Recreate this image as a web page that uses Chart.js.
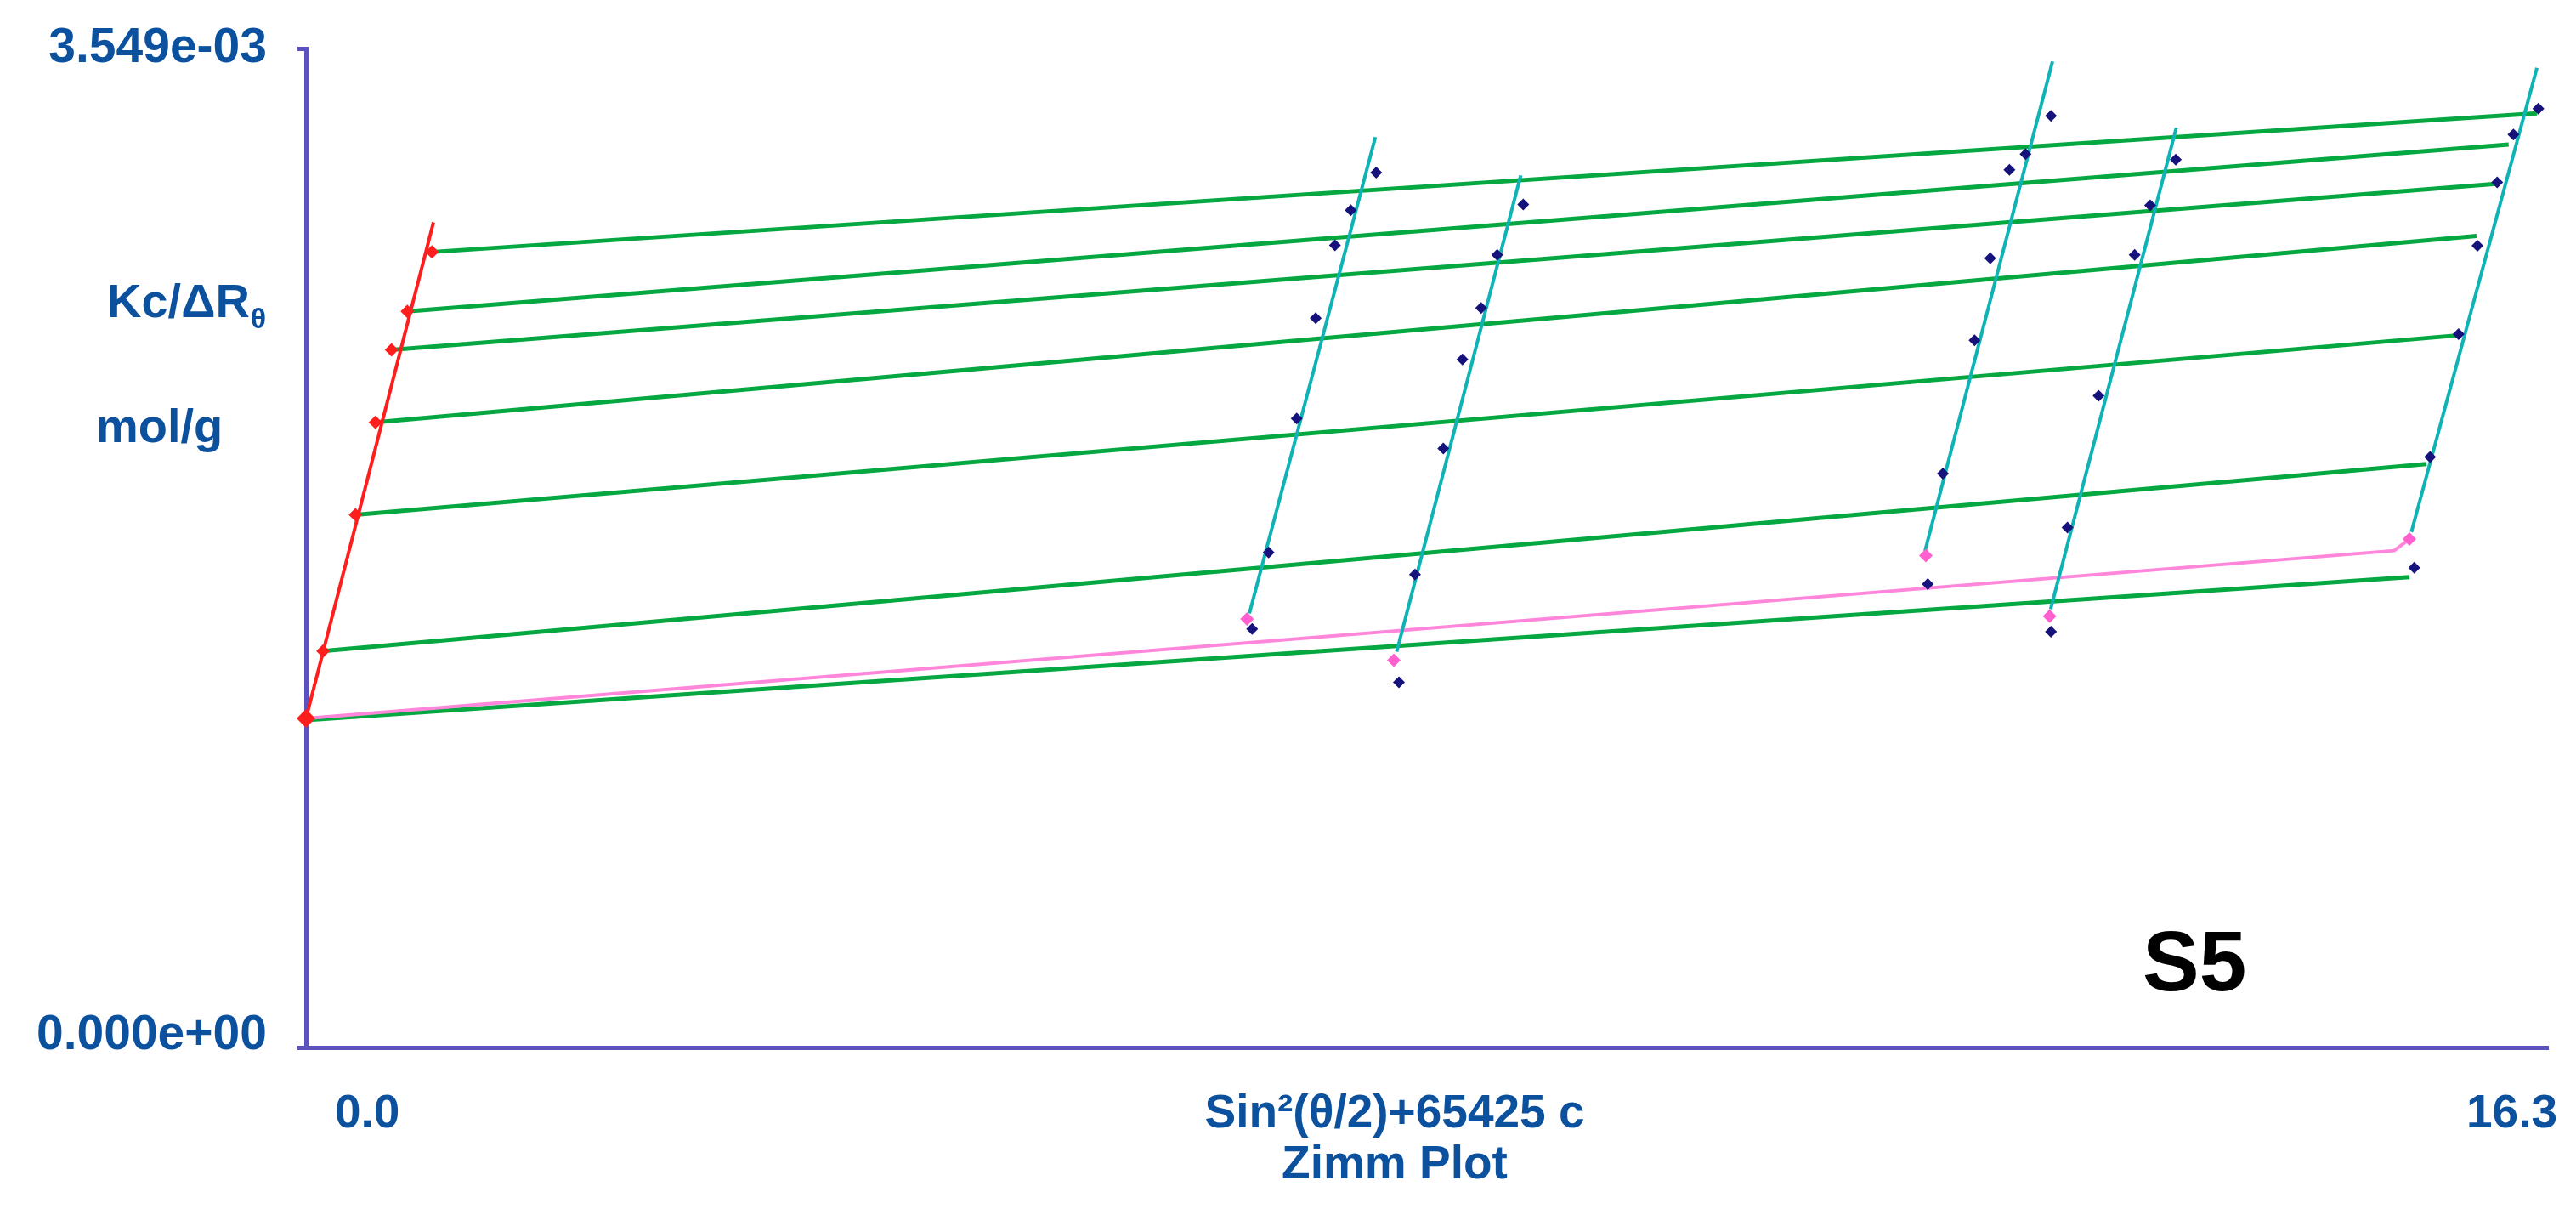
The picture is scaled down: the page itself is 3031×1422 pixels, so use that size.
<!DOCTYPE html>
<html>
<head>
<meta charset="utf-8">
<script src="https://cdn.jsdelivr.net/npm/chart.js@4.4.1/dist/chart.umd.min.js"></script>
<style>
  html, body { margin: 0; padding: 0; background: #ffffff; }
  #wrap { width: 3031px; height: 1422px; }
</style>
</head>
<body>
<div id="wrap"><canvas id="c" width="3031" height="1422"></canvas></div>
<script>
// ---------- data ----------
const xMin = 0, xMax = 16.3;
const yTickVals = [0, 0.003549];
const yTickLabels = ['0.000e+00', '3.549e-03'];
const xTickLabels = ['0.0', '16.3'];
const xTitle = 'Sin\u00B2(\u03B8/2)+65425 c';
const plotCaption = 'Zimm Plot';
const yTitle1 = 'Kc/\u0394R';
const yTitleSub = '\u03B8';
const yTitle2 = 'mol/g';
const sampleName = 'S5';

// theta = 0 extrapolation (red)
const redX = [0, 0.124, 0.360, 0.505, 0.622, 0.737, 0.916];
const redY = [1.169e-3, 1.408e-3, 1.892e-3, 2.221e-3, 2.478e-3, 2.615e-3, 2.826e-3];
const redLineX = [0, 0.927];
const redLineY = [1.169e-3, 2.931e-3];

// constant-concentration fits (green): start / end
const greenX0 = [0.916, 0.737, 0.622, 0.505, 0.360, 0.124, 0];
const greenY0 = [2.826e-3, 2.615e-3, 2.478e-3, 2.221e-3, 1.892e-3, 1.408e-3, 1.163e-3];
const greenX1 = [16.220, 16.014, 15.921, 15.781, 15.650, 15.417, 15.293];
const greenY1 = [3.319e-3, 3.208e-3, 3.068e-3, 2.883e-3, 2.530e-3, 2.073e-3, 1.671e-3];

// c = 0 extrapolation (pink)
const pinkLineX = [0, 15.182, 15.293];
const pinkLineY = [1.169e-3, 1.765e-3, 1.806e-3];
const pinkX = [6.842, 7.909, 11.777, 12.677, 15.293];
const pinkY = [1.522e-3, 1.376e-3, 1.747e-3, 1.532e-3, 1.806e-3];

// constant-angle fits (cyan): bottom / top
const cyanX0 = [6.859, 7.930, 11.771, 12.684, 15.307];
const cyanY0 = [1.542e-3, 1.406e-3, 1.764e-3, 1.557e-3, 1.831e-3];
const cyanX1 = [7.775, 8.832, 12.698, 13.598, 16.220];
const cyanY1 = [3.234e-3, 3.098e-3, 3.503e-3, 3.267e-3, 3.480e-3];

// measured points (navy), one array pair per angle
const a1X = [7.781, 7.596, 7.481, 7.341, 7.203, 6.999, 6.879];
const a1Y = [3.108e-3, 2.974e-3, 2.850e-3, 2.591e-3, 2.234e-3, 1.759e-3, 1.487e-3];
const a2X = [8.850, 8.661, 8.544, 8.408, 8.269, 8.063, 7.946];
const a2Y = [2.995e-3, 2.816e-3, 2.627e-3, 2.444e-3, 2.128e-3, 1.680e-3, 1.297e-3];
const a3X = [12.687, 12.502, 12.385, 12.245, 12.131, 11.901, 11.791];
const a3Y = [3.310e-3, 3.174e-3, 3.118e-3, 2.804e-3, 2.512e-3, 2.039e-3, 1.646e-3];
const a4X = [13.594, 13.408, 13.295, 13.033, 12.807, 12.687];
const a4Y = [3.154e-3, 2.992e-3, 2.816e-3, 2.315e-3, 1.847e-3, 1.477e-3];
const a5X = [16.230, 16.049, 15.931, 15.787, 15.650, 15.443, 15.328];
const a5Y = [3.335e-3, 3.243e-3, 3.073e-3, 2.848e-3, 2.534e-3, 2.098e-3, 1.704e-3];

// ---------- styles ----------
const AXIS = '#5b52bd';
const TEXT = '#0c519e';
const GREEN = '#05a840';
const CYAN = '#10b3b5';
const RED = '#ff1e1e';
const PINK_LINE = '#ff86da';
const PINK_PT = '#ff5fcf';
const NAVY = '#16127c';
const FAMILY = '"Liberation Sans", Arial, sans-serif';

const pts = (xs, ys) => xs.map((x, i) => ({ x: x, y: ys[i] }));
const lineDs = (xs, ys, color, width, order) => ({
  data: pts(xs, ys), showLine: true, borderColor: color, borderWidth: width,
  pointRadius: 0, fill: false, clip: false, order: order
});
const ptDs = (xs, ys, color, radius, order) => ({
  data: pts(xs, ys), showLine: false, backgroundColor: color, borderColor: color,
  borderWidth: 0, pointStyle: 'rectRot', pointRadius: radius, clip: false, order: order
});

const datasets = [];
for (let i = 0; i < greenX0.length; i++) {
  datasets.push(lineDs([greenX0[i], greenX1[i]], [greenY0[i], greenY1[i]], GREEN, 5, 6));
}
datasets.push(lineDs(pinkLineX, pinkLineY, PINK_LINE, 4, 5));
for (let i = 0; i < cyanX0.length; i++) {
  datasets.push(lineDs([cyanX0[i], cyanX1[i]], [cyanY0[i], cyanY1[i]], CYAN, 4, 4));
}
datasets.push(lineDs(redLineX, redLineY, RED, 4, 3));
[[a1X, a1Y], [a2X, a2Y], [a3X, a3Y], [a4X, a4Y], [a5X, a5Y]].forEach(p => {
  datasets.push(ptDs(p[0], p[1], NAVY, 7, 1));
});
datasets.push(ptDs(pinkX, pinkY, PINK_PT, 8, 1));
const redDs = ptDs(redX, redY, RED, 8, 0);
redDs.pointRadius = redX.map((x, i) => i === 0 ? 11 : 8);
datasets.push(redDs);

const textPlugin = {
  id: 'texts',
  beforeDraw(chart) {
    const c = chart.ctx;
    c.save();
    c.fillStyle = '#ffffff';
    c.fillRect(0, 0, chart.width, chart.height);
    c.restore();
  },
  afterDraw(chart) {
    const c = chart.ctx;
    const xs = chart.scales.x;
    const area = chart.chartArea;
    c.save();
    c.fillStyle = TEXT;
    c.textBaseline = 'alphabetic';
    // y axis title
    c.font = 'bold 56px ' + FAMILY;
    c.textAlign = 'left';
    c.fillText(yTitle1, 126, 373);
    const w1 = c.measureText(yTitle1).width;
    c.font = 'bold 34px ' + FAMILY;
    c.fillText(yTitleSub, 126 + w1 + 1, 386);
    c.font = 'bold 56px ' + FAMILY;
    c.fillText(yTitle2, 113, 520);
    // x axis labels
    const base = area.bottom + 94;
    c.font = 'bold 55px ' + FAMILY;
    c.textAlign = 'left';
    c.fillText(xTickLabels[0], xs.getPixelForValue(xMin) + 34, base);
    c.textAlign = 'right';
    c.fillText(xTickLabels[1], xs.getPixelForValue(xMax) + 11, base);
    c.textAlign = 'center';
    const mid = 1641;
    c.fillText(xTitle, mid, base);
    c.fillText(plotCaption, mid, base + 60);
    // sample name
    c.fillStyle = '#000000';
    c.font = 'bold 100px ' + FAMILY;
    c.textAlign = 'left';
    c.fillText(sampleName, 2521, 1165);
    c.restore();
  }
};

new Chart(document.getElementById('c'), {
  type: 'scatter',
  data: { datasets: datasets },
  options: {
    responsive: false,
    animation: false,
    devicePixelRatio: 1,
    layout: { padding: { left: 0, right: 33, top: 57, bottom: 0 } },
    plugins: { legend: { display: false }, tooltip: { enabled: false }, title: { display: false } },
    scales: {
      x: {
        type: 'linear', min: xMin, max: xMax,
        grid: { display: false },
        ticks: { display: false },
        border: { display: true, color: AXIS, width: 5 },
        afterFit: s => { s.height = 190; s.paddingLeft = 0; s.paddingRight = 0; }
      },
      y: {
        type: 'linear', min: yTickVals[0], max: yTickVals[1],
        afterBuildTicks: s => { s.ticks = yTickVals.map(v => ({ value: v })); },
        ticks: {
          padding: 36,
          color: TEXT,
          font: (ctx) => ({ size: 57, weight: 'bold', family: FAMILY,
                            lineHeight: ctx.index === 0 ? '28px' : 1.2 }),
          callback: (v) => {
            const i = yTickVals.indexOf(v);
            return i === 0 ? [yTickLabels[i], ''] : yTickLabels[i];
          }
        },
        grid: { drawOnChartArea: false, drawTicks: true, tickLength: 10, color: AXIS, lineWidth: 5 },
        border: { display: true, color: AXIS, width: 5 },
        afterFit: s => { s.width = 360; s.paddingTop = 0; s.paddingBottom = 0; }
      }
    }
  },
  plugins: [textPlugin]
});
</script>
</body>
</html>
